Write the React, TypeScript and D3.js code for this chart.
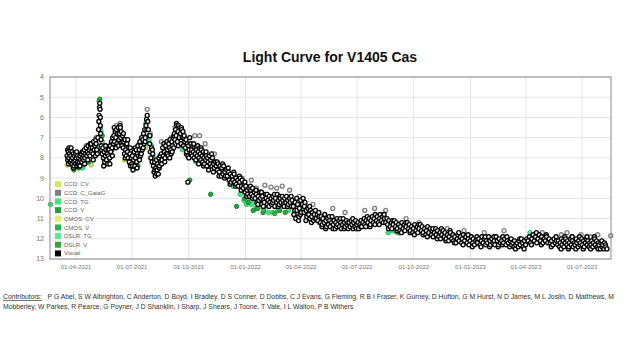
import React, { useEffect, useRef } from 'react'
import * as d3 from 'd3'

// observation times are JD - 2459000; JD 2459215.5 is 2021-01-01 00:00 UT
const JD_2021 = 215.5
const jdStart = 263.3
const jdEnd = 1173.5

const magTicks = [4, 5, 6, 7, 8, 9, 10, 11, 12, 13]

const bandNames = ['CCD: CV', 'CCD: C_GaiaG', 'CCD: TG', 'CCD: V', 'CMOS: CV', 'CMOS: V', 'DSLR: TG', 'DSLR: V', 'Visual']
const bandColors = ['#cfe85c', '#7f7f7f', '#3fe87b', '#1fa53a', '#dcef6e', '#2db644', '#55eb92', '#35a535', '#000000']

const ccdCV: [number, number][] = [
  [291, 8.35], [330, 8.35], [352, 8.2], [384, 8.1], [418, 7.5], [436, 8.4]
]

const ccdGaiaG: [number, number][] = [
  [322, 7.4], [338, 7.0], [348, 7.2], [371, 6.4], [377, 6.3], [395, 7.6], [421, 5.6], [426, 6.8],
  [444, 7.2], [452, 7.4], [460, 7.0], [466, 6.5], [475, 6.6], [498, 6.9], [506, 6.9], [515, 7.3],
  [530, 7.8], [545, 8.5], [548, 8.6], [575, 9.0], [590, 9.1], [598, 9.5], [612, 9.35], [622, 9.45],
  [631, 9.5], [640, 9.4], [652, 9.6], [668, 9.9], [690, 10.3], [722, 10.5], [742, 10.7], [774, 10.6],
  [790, 10.5], [808, 10.6], [841, 11.0], [862, 11.2], [908, 11.5], [935, 11.6], [968, 11.7], [1000, 11.6],
  [1062, 11.7], [1093, 11.8], [1102, 11.7], [1110, 11.9], [1125, 11.8], [1140, 11.9], [1152, 11.8], [1173, 11.85]
]

const ccdTG: [number, number][] = [
  [264, 10.3], [296, 8.0], [305, 8.3], [316, 8.5], [325, 8.1], [333, 7.6], [343, 5.2], [346, 6.7],
  [357, 7.9], [368, 7.3], [380, 7.1], [398, 8.0], [428, 7.4], [455, 8.0], [478, 7.6], [500, 8.2],
  [540, 8.8], [560, 9.4], [572, 9.8], [578, 10.1], [582, 10.3], [585, 10.0], [590, 10.3], [597, 10.5],
  [600, 10.1], [603, 10.2], [612, 10.4], [618, 10.7], [625, 10.7], [633, 10.6], [650, 10.6], [662, 10.4],
  [668, 10.9], [672, 10.1], [676, 10.5], [685, 10.7], [690, 10.8], [697, 11.0], [708, 11.2], [720, 11.0],
  [727, 11.2], [735, 11.3], [740, 11.3], [752, 11.4], [760, 11.4], [765, 11.5], [787, 11.0], [812, 11.7],
  [820, 11.6], [828, 11.7], [834, 11.6], [870, 11.6], [880, 11.8]
]

const ccdV: [number, number][] = [
  [294, 8.2], [300, 8.4], [306, 8.4], [310, 8.5], [320, 8.3], [326, 8.2], [344, 5.1], [345, 6.5],
  [352, 7.4], [358, 8.2], [364, 7.6], [376, 7.2], [383, 7.4], [390, 7.8], [402, 8.1], [406, 8.4],
  [419, 6.3], [430, 7.9], [448, 7.7], [470, 7.1], [490, 9.1], [524, 9.8], [566, 10.4], [579, 10.0],
  [585, 10.2], [593, 10.6], [600, 10.5], [609, 10.7], [636, 10.6], [660, 10.3]
]

const cmosCV: [number, number][] = [
  [300, 8.5], [342, 7.8], [392, 8.3], [450, 8.0]
]

const cmosV: [number, number][] = [
  [302, 8.6], [330, 7.5], [362, 7.8], [387, 7.6], [440, 8.3], [610, 10.6], [628, 10.75], [660, 10.8],
  [700, 11.2], [748, 11.4], [825, 11.65], [1010, 12.15]
]

const dslrTG: [number, number][] = [
  [298, 8.1], [312, 8.4], [340, 7.4], [372, 7.0], [424, 7.1], [594, 10.2], [606, 10.4], [640, 10.4],
  [680, 10.9], [712, 11.0], [780, 11.3], [818, 11.6], [895, 11.7], [1042, 11.7]
]

const dslrV: [number, number][] = [
  [308, 8.2], [348, 6.9], [395, 7.9], [462, 7.6], [615, 10.3], [645, 10.7], [704, 11.1], [830, 11.7]
]

const visual: [number, number][] = [
  [291, 7.9], [292, 7.6], [292, 8.1], [293, 7.7], [293.5, 8.3], [294, 8.0], [294, 7.5], [295, 7.8],
  [296, 8.2], [296, 7.6], [297, 7.9], [297.5, 7.5], [298, 8.1], [299, 7.7], [299, 8.3], [300, 8.0],
  [301, 7.8], [301.5, 8.5], [302, 8.2], [302, 8.4], [303, 7.9], [304, 8.1], [305, 8.3], [305, 7.8],
  [306, 8.0], [306.5, 7.7], [307, 8.4], [308, 8.2], [308, 7.9], [309, 8.3], [310, 8.0], [310.5, 8.4],
  [311, 8.2], [312, 7.9], [312, 8.4], [313, 8.1], [314, 7.8], [315, 8.2], [315.5, 7.7], [316, 8.0],
  [317, 7.7], [318, 8.1], [318, 7.9], [319, 7.6], [319.5, 8.3], [320, 8.0], [321, 7.8], [322, 7.5],
  [323, 7.9], [324, 7.7], [324.5, 8.1], [325, 7.4], [326, 7.8], [327, 7.6], [328, 7.9], [328.5, 7.3],
  [329, 7.5], [330, 7.3], [331, 7.7], [332, 7.5], [333, 7.8], [333.5, 8.1], [334, 7.2], [335, 7.6],
  [336, 7.4], [337, 7.9], [337.5, 7.1], [338, 7.3], [339, 7.6], [340, 7.8], [341, 7.0], [342, 6.6],
  [342.5, 6.2], [343, 5.9], [343.5, 5.5], [344, 5.3], [344.5, 5.6], [345, 6.0], [345, 6.4], [345.5, 6.8],
  [346, 7.1], [346.5, 7.4], [347, 7.6], [348, 7.8], [349, 7.5], [350, 8.0], [350.5, 8.4], [351, 7.7],
  [352, 8.2], [353, 7.9], [353.5, 7.4], [354, 7.6], [355, 8.1], [356, 7.8], [357, 8.3], [357.5, 7.6],
  [358, 7.9], [359, 7.6], [360, 8.0], [360.5, 8.3], [361, 7.4], [362, 7.7], [363, 7.2], [364, 7.5],
  [364.5, 7.9], [365, 7.0], [366, 7.3], [367, 6.9], [367.5, 6.5], [368, 7.2], [369, 6.7], [370, 7.0],
  [370.5, 7.5], [371, 6.6], [372, 7.3], [373, 6.8], [374, 6.5], [374.5, 7.4], [375, 7.1], [376, 6.8],
  [377, 6.4], [377.5, 6.5], [378, 7.0], [379, 6.7], [380, 7.4], [381, 6.9], [382, 7.5], [382.5, 6.8],
  [383, 7.2], [384, 7.8], [385, 7.1], [385.5, 8.0], [386, 7.6], [387, 7.9], [388, 7.3], [389, 7.7],
  [389.5, 7.1], [390, 8.0], [391, 7.5], [392, 8.2], [393, 7.8], [393.5, 7.5], [394, 8.4], [395, 8.0],
  [396, 8.3], [397, 7.9], [397.5, 8.4], [398, 8.6], [399, 8.1], [400, 7.7], [401, 8.4], [401.5, 7.5],
  [402, 8.0], [403, 7.6], [404, 8.2], [404.5, 8.5], [405, 7.8], [406, 7.4], [407, 7.9], [408, 7.6],
  [408.5, 8.1], [409, 7.2], [410, 7.9], [411, 7.4], [411.5, 7.8], [412, 7.0], [413, 7.6], [414, 7.1],
  [414.5, 7.5], [415, 6.8], [416, 7.3], [417, 6.6], [417.5, 7.2], [418, 7.0], [419, 6.4], [420, 6.1],
  [420.5, 6.6], [421, 5.9], [422, 6.2], [423, 6.6], [424, 6.9], [425, 7.3], [425.5, 6.9], [426, 7.7],
  [427, 8.0], [428, 7.5], [429, 8.2], [429.5, 7.6], [430, 7.8], [431, 8.4], [432, 8.7], [433, 8.2],
  [433.5, 8.6], [434, 8.9], [435, 8.5], [436, 8.1], [436.5, 8.8], [437, 8.6], [438, 8.3], [439, 8.8],
  [440, 8.0], [440.5, 8.5], [441, 8.4], [442, 7.9], [443, 8.2], [444, 7.8], [444.5, 8.3], [445, 8.1],
  [446, 7.5], [447, 7.9], [448, 7.3], [449, 7.7], [449.5, 8.2], [450, 8.0], [451, 7.4], [452, 7.8],
  [453, 7.2], [453.5, 7.8], [454, 7.6], [455, 7.9], [456, 7.3], [457, 7.5], [457.5, 8.0], [458, 7.1],
  [459, 7.6], [460, 7.8], [461, 7.2], [461.5, 7.7], [462, 7.4], [463, 7.0], [464, 7.5], [464.5, 6.9],
  [465, 6.8], [466, 7.1], [467, 6.6], [468, 6.9], [468.5, 6.3], [469, 6.4], [470, 7.2], [471, 6.7],
  [471.5, 7.4], [472, 6.4], [473, 7.0], [474, 6.5], [475, 6.8], [476, 7.3], [476.5, 6.5], [477, 6.6],
  [478, 7.0], [479, 6.7], [480, 7.4], [480.5, 7.0], [481, 6.9], [482, 7.2], [483, 7.5], [484, 7.1],
  [484.5, 7.8], [485, 7.7], [486, 7.3], [487, 9.2], [487, 7.9], [488, 7.4], [488.5, 8.0], [489, 7.6],
  [490, 7.0], [491, 7.8], [492, 7.3], [492.5, 7.8], [493, 7.6], [494, 7.9], [495, 7.4], [496, 7.7],
  [496.5, 7.3], [497, 8.0], [498, 7.5], [499, 7.8], [500, 8.1], [500.5, 7.5], [501, 7.6], [502, 7.9],
  [503, 7.4], [504, 7.7], [504.5, 8.3], [505, 8.0], [506, 7.5], [507, 7.8], [508, 8.1], [508.5, 7.5],
  [509, 7.6], [510, 7.9], [511, 8.2], [512, 7.7], [512.5, 8.4], [513, 8.0], [514, 8.3], [515, 7.8],
  [516, 8.1], [516.5, 7.7], [517, 7.9], [518, 8.4], [519, 8.0], [520, 8.2], [520.5, 8.6], [522, 7.9],
  [523, 8.3], [524, 8.1], [525.5, 7.8], [526, 8.4], [527, 8.0], [528.5, 8.7], [529, 8.3], [530, 8.5],
  [532, 8.2], [533, 8.4], [534.5, 8.2], [535, 8.6], [536, 8.3], [537.5, 8.9], [538, 8.7], [539, 8.4],
  [541, 8.9], [542, 8.5], [543.5, 8.3], [544, 8.8], [545, 8.4], [546.5, 9.0], [547, 8.7], [548, 8.9],
  [550, 8.6], [551, 8.9], [552.5, 8.5], [553, 8.7], [554, 9.1], [555.5, 9.3], [556, 8.8], [557, 9.2],
  [559, 8.9], [560, 9.1], [561.5, 8.7], [562, 8.8], [563, 9.2], [564.5, 9.4], [565, 9.0], [566, 9.3],
  [568, 9.1], [569, 9.4], [570.5, 8.9], [571, 9.2], [572, 9.0], [573.5, 9.6], [574, 9.4], [575, 9.1],
  [577, 9.5], [578, 9.3], [579.5, 9.2], [580, 9.7], [581, 9.4], [582.5, 9.9], [583, 9.6], [584, 9.8],
  [586, 9.5], [587, 9.9], [588.5, 9.4], [589, 9.6], [590, 9.8], [591.5, 10.0], [592, 9.5], [593, 9.9],
  [595, 9.7], [596, 10.0], [597.5, 9.6], [598, 9.8], [599, 10.2], [600.5, 10.3], [601, 9.9], [602, 10.1],
  [604, 9.7], [605, 10.0], [606.5, 9.7], [607, 10.3], [608, 9.9], [609.5, 10.4], [610, 10.1], [611, 10.2],
  [613, 9.8], [614, 10.0], [615.5, 9.8], [616, 10.3], [617, 10.1], [618.5, 10.4], [619, 9.9], [620, 10.2],
  [622, 10.0], [623, 10.3], [624.5, 10.2], [625, 9.9], [626, 10.1], [627.5, 9.8], [628, 10.4], [629, 10.0],
  [631, 10.2], [632, 9.8], [633.5, 10.4], [634, 10.1], [635, 10.3], [636.5, 9.9], [637, 10.0], [638, 10.2],
  [640, 9.9], [641, 10.1], [642.5, 10.3], [643, 10.4], [644, 10.0], [646, 10.2], [647, 9.9], [648.5, 10.4],
  [649, 10.1], [650, 10.3], [652, 10.0], [653, 10.2], [654.5, 9.9], [655, 10.4], [656, 10.1], [658, 10.4],
  [659, 10.8], [660.5, 10.6], [661, 10.2], [662, 11.0], [663.5, 10.0], [664, 10.6], [665, 10.3], [666.5, 11.1],
  [667, 10.9], [668, 10.5], [669.5, 10.8], [670, 10.1], [671, 10.7], [673, 10.3], [674, 10.0], [675.5, 10.7],
  [676, 10.4], [677, 10.2], [678.5, 11.1], [679, 10.6], [680, 10.9], [682, 10.5], [683, 10.8], [684.5, 10.4],
  [685, 11.0], [686, 10.6], [687.5, 11.2], [688, 10.9], [689, 10.7], [691, 11.1], [692, 10.8], [693.5, 11.0],
  [694, 10.6], [695, 11.0], [697, 10.8], [698, 11.1], [699.5, 10.7], [700, 10.9], [702, 11.2], [703, 10.9],
  [704.5, 11.4], [705, 11.3], [706, 11.0], [708, 11.2], [709, 10.8], [710.5, 11.5], [711, 11.1], [712, 11.4],
  [714, 11.0], [715, 11.3], [716.5, 10.9], [717, 11.1], [718, 11.4], [720, 11.2], [721, 10.9], [722.5, 11.5],
  [723, 11.3], [724, 11.1], [726, 11.5], [727, 11.2], [728.5, 11.4], [729, 11.0], [730, 11.3], [732, 11.1],
  [733, 11.4], [734.5, 11.0], [735, 11.2], [736, 11.5], [738, 11.3], [739, 11.0], [740.5, 11.5], [741, 11.2],
  [742, 11.4], [744, 11.1], [745, 11.3], [746.5, 11.2], [747, 11.5], [749, 11.2], [750, 11.4], [752, 11.1],
  [753, 11.3], [754.5, 11.0], [755, 11.5], [756, 11.2], [758, 11.4], [759, 11.1], [760.5, 11.5], [761, 11.3],
  [763, 11.2], [764, 11.5], [766, 11.3], [767.5, 11.4], [768, 11.1], [769, 11.4], [771, 11.2], [773, 11.0],
  [774, 11.3], [775.5, 11.4], [776, 11.1], [778, 10.9], [779, 11.2], [781, 11.0], [782.5, 11.4], [783, 11.3],
  [784, 11.1], [786, 10.9], [788, 11.2], [789, 11.0], [790.5, 11.3], [791, 10.8], [793, 11.1], [794, 10.9],
  [796, 11.2], [797.5, 11.3], [798, 11.0], [799, 10.8], [801, 11.1], [803, 10.9], [804, 11.2], [805.5, 10.8],
  [806, 11.0], [808, 11.2], [810, 11.0], [811, 11.3], [812.5, 11.5], [813, 11.1], [815, 11.4], [817, 11.2],
  [818, 11.5], [819.5, 11.1], [820, 11.3], [822, 11.1], [824, 11.4], [825, 11.2], [826.5, 11.6], [827, 11.5],
  [829, 11.3], [831, 11.6], [832, 11.4], [833.5, 11.7], [834, 11.2], [836, 11.5], [838, 11.3], [839, 11.6],
  [840.5, 11.2], [841, 11.4], [843, 11.2], [845, 11.5], [846, 11.3], [847.5, 11.7], [848, 11.6], [850, 11.4],
  [852, 11.7], [853, 11.5], [854.5, 11.8], [855, 11.3], [857, 11.6], [859, 11.4], [860, 11.7], [861.5, 11.3],
  [862, 11.5], [864, 11.3], [866, 11.6], [867, 11.4], [868.5, 11.8], [869, 11.7], [871, 11.5], [873, 11.8],
  [874, 11.6], [875.5, 11.9], [876, 11.4], [878, 11.7], [880, 11.5], [882, 11.8], [883, 11.6], [884.5, 11.5],
  [885, 11.9], [887, 11.7], [889, 11.5], [890, 11.8], [891.5, 12.0], [892, 11.6], [894, 11.9], [896, 11.7],
  [897, 12.0], [898.5, 11.5], [899, 11.8], [901, 11.6], [903, 11.9], [904, 11.7], [905.5, 12.1], [906, 12.0],
  [908, 11.8], [910, 12.1], [911, 11.9], [912.5, 11.6], [913, 11.7], [915, 12.0], [917, 11.8], [918, 12.1],
  [919.5, 12.2], [920, 11.9], [922, 12.2], [924, 12.0], [925, 11.8], [926.5, 11.7], [927, 12.1], [929, 11.9],
  [931, 12.2], [932, 12.0], [933.5, 12.3], [934, 11.8], [936, 12.1], [938, 11.9], [940, 12.2], [941.5, 11.8],
  [942, 12.0], [943, 12.3], [945, 12.1], [947, 11.9], [948.5, 12.4], [949, 12.2], [950, 12.0], [952, 12.3],
  [954, 12.1], [955.5, 12.0], [956, 11.9], [957, 12.2], [959, 12.0], [961, 12.3], [962.5, 12.4], [963, 12.1],
  [964, 11.9], [966, 12.2], [968, 12.0], [969.5, 11.9], [970, 12.3], [971, 12.1], [973, 12.2], [975, 11.9],
  [976.5, 12.4], [977, 12.1], [978, 12.3], [980, 12.0], [982, 12.2], [983.5, 11.9], [984, 12.1], [985, 12.3],
  [987, 11.9], [989, 12.1], [990.5, 12.4], [991, 12.3], [992, 12.0], [994, 12.2], [996, 12.1], [997.5, 12.3],
  [998, 11.9], [999, 12.2], [1001, 12.0], [1003, 12.3], [1004.5, 11.9], [1005, 12.1], [1007, 12.2], [1009, 12.4],
  [1010, 12.1], [1011.5, 12.0], [1012, 12.3], [1014, 12.2], [1016, 12.4], [1017, 12.1], [1018.5, 12.5], [1019, 12.3],
  [1021, 12.2], [1023, 12.4], [1024, 12.1], [1025.5, 12.0], [1026, 12.3], [1028, 12.0], [1030, 12.2], [1031, 12.4],
  [1032.5, 12.5], [1033, 12.1], [1035, 12.3], [1037, 12.0], [1039, 12.1], [1041, 11.9], [1043, 12.2], [1044.5, 12.3],
  [1045, 12.0], [1047, 11.8], [1049, 12.1], [1051, 11.9], [1052.5, 11.7], [1053, 12.2], [1055, 12.0], [1057, 11.8],
  [1059, 12.1], [1060.5, 12.3], [1061, 11.9], [1063, 12.2], [1065, 12.0], [1067, 12.1], [1068.5, 11.8], [1069, 11.9],
  [1071, 12.2], [1073, 12.0], [1075, 12.2], [1076.5, 12.4], [1077, 12.1], [1079, 12.3], [1081, 12.0], [1083, 12.2],
  [1084.5, 11.9], [1085, 12.1], [1087, 12.3], [1088, 12.1], [1090, 12.4], [1091, 12.2], [1092.5, 12.5], [1093, 12.0],
  [1094, 12.3], [1096, 12.1], [1097, 12.4], [1098.5, 11.9], [1099, 12.2], [1100, 12.0], [1102, 12.3], [1103, 12.1],
  [1104.5, 12.5], [1105, 12.4], [1106, 12.2], [1108, 12.0], [1109, 12.3], [1110.5, 11.9], [1111, 12.1], [1112, 12.4],
  [1114, 12.2], [1115, 12.3], [1116.5, 12.5], [1117, 12.0], [1118, 12.2], [1120, 12.4], [1121, 12.1], [1122.5, 11.9],
  [1123, 12.3], [1124, 12.2], [1126, 12.0], [1127, 12.3], [1128.5, 12.5], [1129, 12.1], [1130, 12.4], [1132, 12.2],
  [1133, 12.0], [1134.5, 11.9], [1135, 12.3], [1136, 12.1], [1138, 12.4], [1139, 12.2], [1140.5, 12.5], [1141, 12.3],
  [1142, 12.1], [1144, 12.4], [1145, 12.2], [1146.5, 11.9], [1147, 12.0], [1148, 12.3], [1150, 12.1], [1151, 12.4],
  [1152.5, 12.5], [1153, 12.2], [1154, 12.3], [1156, 12.5], [1157, 12.2], [1158.5, 12.1], [1159, 12.4], [1160, 12.3],
  [1162, 12.5], [1163, 12.2], [1164.5, 12.3], [1165, 12.4], [1167, 12.5]
]

const seriesData = [ccdCV, ccdGaiaG, ccdTG, ccdV, cmosCV, cmosV, dslrTG, dslrV, visual]

const contributorLines = [
  'P G Abel, S W Albrighton, C Anderton, D Boyd, I Bradley, D S Conner, D Dobbs, C J Evans, G Fleming, R B I Fraser, K Gurney, D Hufton, G M Hurst, N D James, M L Joslin, D Matthews, M',
  'Mobberley, W Parkes, R Pearce, G Poyner, J D Shanklin, I Sharp, J Shears, J Toone, T Vale, I L Walton, P B Withers'
]

const jdToDate = (jd: number) => new Date(Date.UTC(2021, 0, 1) + (jd - JD_2021) * 864e5)

export default function App() {
  const svgRef = useRef<SVGSVGElement>(null)

  useEffect(() => {
    if (!svgRef.current) return
    const svg = d3.select(svgRef.current)
    svg.selectAll('*').remove()

    const font = '"Liberation Sans", Arial, sans-serif'
    const left = 50, right = 611, top = 77, bottom = 259

    const x = d3.scaleUtc()
      .domain([jdToDate(jdStart), jdToDate(jdEnd)])
      .range([left, right])

    // magnitudes: brighter is up
    const y = d3.scaleLinear().domain([4, 13]).range([top, bottom])

    svg.append('rect').attr('width', 640).attr('height', 360).attr('fill', '#fff')

    // title
    svg.append('text')
      .attr('x', 330)
      .attr('y', 62)
      .attr('text-anchor', 'middle')
      .style('font-family', font)
      .style('font-size', '14px')
      .style('font-weight', 'bold')
      .attr('fill', '#111')
      .text('Light Curve for V1405 Cas')

    const xTicks = x.ticks(d3.utcMonth.every(3) as d3.TimeInterval)
    const fmt = d3.utcFormat('%d-%m-%Y')

    // grid
    svg.append('g')
      .selectAll('line')
      .data(xTicks)
      .enter()
      .append('line')
      .attr('x1', d => x(d))
      .attr('x2', d => x(d))
      .attr('y1', top)
      .attr('y2', bottom)
      .attr('stroke', '#e4e4e4')

    svg.append('g')
      .selectAll('line')
      .data(magTicks)
      .enter()
      .append('line')
      .attr('x1', left)
      .attr('x2', right)
      .attr('y1', d => y(d))
      .attr('y2', d => y(d))
      .attr('stroke', '#e4e4e4')

    // tick labels
    svg.append('g')
      .selectAll('text')
      .data(xTicks)
      .enter()
      .append('text')
      .attr('x', d => x(d))
      .attr('y', bottom + 10)
      .attr('text-anchor', 'middle')
      .style('font-family', font)
      .style('font-size', '6px')
      .attr('fill', '#777')
      .text(d => fmt(d))

    svg.append('g')
      .selectAll('text')
      .data(magTicks)
      .enter()
      .append('text')
      .attr('x', left - 6)
      .attr('y', d => y(d))
      .attr('dy', '0.35em')
      .attr('text-anchor', 'end')
      .style('font-family', font)
      .style('font-size', '7px')
      .attr('fill', '#777')
      .text(d => d)

    // observations, one group per band; Gaia and visual as open rings
    const plot = svg.append('g')
    seriesData.forEach((rows, i) => {
      const isRing = i === 1 || i === 8
      plot.append('g')
        .selectAll('circle')
        .data(rows)
        .enter()
        .append('circle')
        .attr('cx', d => x(jdToDate(d[0])))
        .attr('cy', d => y(d[1]))
        .attr('r', isRing ? 2 : 2.2)
        .attr('fill', isRing ? '#f2f2f2' : bandColors[i])
        .attr('stroke', isRing ? bandColors[i] : d3.color(bandColors[i])!.darker(0.6).formatHex())
        .attr('stroke-width', isRing ? 1.3 : 1)
    })

    // frame
    svg.append('rect')
      .attr('x', left)
      .attr('y', top)
      .attr('width', right - left)
      .attr('height', bottom - top)
      .attr('fill', 'none')
      .attr('stroke', '#8a8a8a')

    // legend
    const legend = svg.append('g').attr('transform', `translate(55, ${y(9.3)})`)
    bandNames.forEach((name, i) => {
      legend.append('rect')
        .attr('x', 0)
        .attr('y', i * 8.65 - 3)
        .attr('width', 6)
        .attr('height', 6)
        .attr('fill', bandColors[i])
      legend.append('text')
        .attr('x', 9)
        .attr('y', i * 8.65)
        .attr('dy', '0.35em')
        .style('font-family', font)
        .style('font-size', '6px')
        .attr('fill', '#666')
        .text(name)
    })

    // contributors
    const credits = svg.append('text')
      .attr('x', 3)
      .attr('y', 299)
      .style('font-family', font)
      .style('font-size', '6.8px')
      .attr('fill', '#333')
    credits.append('tspan')
      .style('text-decoration', 'underline')
      .text('Contributors:')
    credits.append('tspan').text('\u00a0\u00a0 ' + contributorLines[0])

    svg.append('text')
      .attr('x', 3)
      .attr('y', 309)
      .style('font-family', font)
      .style('font-size', '6.8px')
      .attr('fill', '#333')
      .text(contributorLines[1])
  }, [])

  return (
    <svg
      ref={svgRef}
      width={640}
      height={360}
      style={{ position: 'absolute', left: 0, top: 0 }}
    />
  )
}
